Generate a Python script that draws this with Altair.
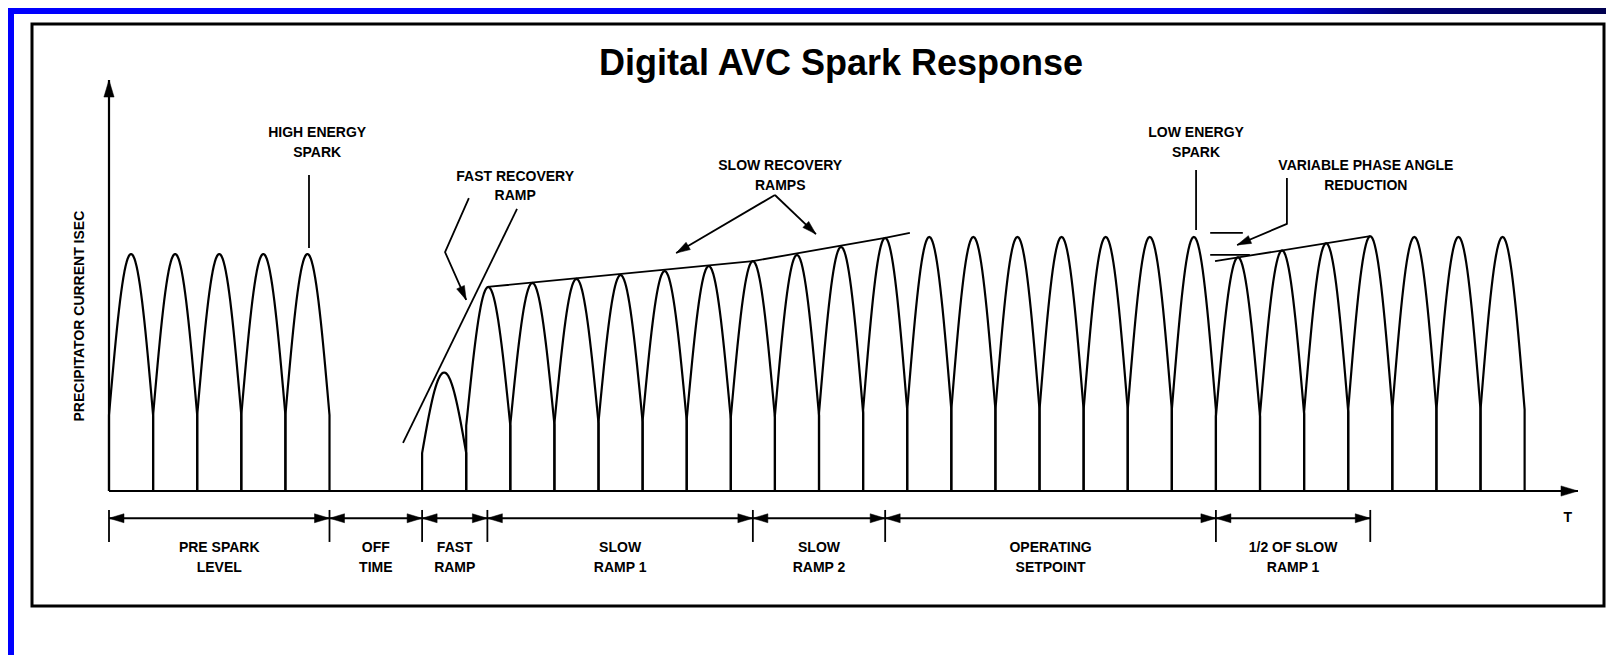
import math
import altair as alt
import pandas as pd

# ---------------- data (time in half-cycles, current in % of pre-spark peak) ----------------
pre_starts = [0, 1, 2, 3, 4]
pre_peaks = [100, 100, 100, 100, 100]
fast_starts = [7.1]
fast_peaks = [50]
main_starts = [8.1, 9.1, 10.1, 11.1, 12.1, 13.1, 14.1, 15.1, 16.1, 17.1, 18.1, 19.1,
               20.1, 21.1, 22.1, 23.1, 24.1, 25.1, 26.1, 27.1, 28.1, 29.1, 30.1, 31.1]
main_peaks = [86.1, 87.8, 89.5, 91.1, 92.8, 94.9, 97.0, 99.6, 103.0, 106.8,
              107.2, 107.2, 107.2, 107.2, 107.2, 107.2, 107.2,
              98.6, 101.5, 104.5, 107.5,
              107.2, 107.2, 107.2]

span_starts = [0, 5, 7.1, 8.58, 14.6, 17.6, 25.1]
span_ends = [5, 7.1, 8.58, 14.6, 17.6, 25.1, 28.6]
span_line1 = ["PRE SPARK", "OFF", "FAST", "SLOW", "SLOW", "OPERATING", "1/2 OF SLOW"]
span_line2 = ["LEVEL", "TIME", "RAMP", "RAMP 1", "RAMP 2", "SETPOINT", "RAMP 1"]

callout_t = [4.72, 9.21, 15.22, 24.65, 28.5]
callout_v1 = [151.1, 132.5, 137.1, 151.1, 137.1]
callout_v2 = [142.6, 124.5, 128.7, 142.6, 128.7]
callout_line1 = ["HIGH ENERGY", "FAST RECOVERY", "SLOW RECOVERY", "LOW ENERGY", "VARIABLE PHASE ANGLE"]
callout_line2 = ["SPARK", "RAMP", "RAMPS", "SPARK", "REDUCTION"]

# annotation polylines (t, v)
lines = {
    "fast_ramp": [(6.667, 20.3), (9.252, 119.0)],
    "slow_ramp": [(8.58, 86.1), (14.6, 97.0), (17.6, 106.8), (18.16, 108.9)],
    "hi_spark": [(4.535, 133.3), (4.535, 102.5)],
    "lo_spark": [(24.65, 135.4), (24.65, 110.1)],
    "fast_ptr": [(8.16, 123.6), (7.62, 100.8), (8.10, 80.6)],
    "slow_ptr_a": [(15.10, 124.9), (12.86, 100.4)],
    "slow_ptr_b": [(15.10, 124.9), (16.03, 108.4)],
    "vpa_ptr": [(26.71, 132.1), (26.71, 112.7), (25.58, 103.8)],
    "vpa_upper": [(24.97, 108.9), (25.71, 108.9)],
    "vpa_lower": [(24.97, 99.6), (25.87, 99.6)],
    "vpa_ramp": [(25.08, 97.0), (28.6, 107.5)],
}
pointer_tips = ["fast_ptr", "slow_ptr_a", "slow_ptr_b", "vpa_ptr"]

y_axis_top = 173.4
x_axis_end = 33.31
span_bar_v = -11.5
span_tick_v = (-8.0, -21.5)
span_text_v = (-24.1, -32.5)

# ---------------- scales / layout ----------------
XMIN, XMAX = -1.746, 33.9
VMIN, VMAX = -48.52, 197.05
W, H = 1572, 582
KX = W / (XMAX - XMIN)
KY = H / (VMAX - VMIN)
xs = alt.Scale(domain=[XMIN, XMAX], nice=False, zero=False)
ys = alt.Scale(domain=[VMIN, VMAX], nice=False, zero=False)
X = lambda f: alt.X(f, scale=xs, axis=None)
Y = lambda f: alt.Y(f, scale=ys, axis=None)

FONT = "Liberation Sans"
ARROW = "M0,0L-2,-0.6L-2,0.6Z"

# waveform humps: vertical rise at the firing point, half-sine arc, vertical drop
CUSP, N = 0.32, 40
rows = []
hid = 0
for starts, peaks in [(pre_starts, pre_peaks), (fast_starts, fast_peaks), (main_starts, main_peaks)]:
    for x0, pk in zip(starts, peaks):
        c = CUSP * pk
        seq = [(x0, 0.0)]
        for i in range(N + 1):
            u = -1 + 2 * i / N
            seq.append((x0 + (u + 1) / 2, c + (pk - c) * math.cos(math.pi / 2 * u)))
        seq.append((x0 + 1, 0.0))
        for j, (t, v) in enumerate(seq):
            rows.append({"hump": hid, "ord": j, "t": t, "v": v})
        hid += 1
wave_df = pd.DataFrame(rows)

ann_rows = []
for name, pts in lines.items():
    for j, (t, v) in enumerate(pts):
        ann_rows.append({"g": name, "ord": j, "t": t, "v": v})
ann_df = pd.DataFrame(ann_rows)


def ang(frm, to):
    dx = (to[0] - frm[0]) * KX
    dy = -(to[1] - frm[1]) * KY
    return math.degrees(math.atan2(dy, dx)) % 360


arrows = []
for name in pointer_tips:
    pts = lines[name]
    arrows.append({"t": pts[-1][0], "v": pts[-1][1], "ang": ang(pts[-2], pts[-1]), "sz": 196})
arrows.append({"t": 0, "v": y_axis_top, "ang": 270, "sz": 289})
arrows.append({"t": x_axis_end, "v": 0, "ang": 0, "sz": 289})
for a, b in zip(span_starts, span_ends):
    arrows.append({"t": a, "v": span_bar_v, "ang": 180, "sz": 225})
    arrows.append({"t": b, "v": span_bar_v, "ang": 0, "sz": 225})
arrow_df = pd.DataFrame(arrows)

ticks = sorted(set(span_starts + span_ends))
tick_df = pd.DataFrame({"t": ticks, "v1": span_tick_v[0], "v2": span_tick_v[1]})

span_txt = []
for a, b, l1, l2 in zip(span_starts, span_ends, span_line1, span_line2):
    span_txt.append({"t": (a + b) / 2, "v": span_text_v[0], "txt": l1})
    span_txt.append({"t": (a + b) / 2, "v": span_text_v[1], "txt": l2})
for t, v1, v2, l1, l2 in zip(callout_t, callout_v1, callout_v2, callout_line1, callout_line2):
    span_txt.append({"t": t, "v": v1, "txt": l1})
    span_txt.append({"t": t, "v": v2, "txt": l2})
span_txt.append({"t": 33.08, "v": -11.4, "txt": "T"})
text_df = pd.DataFrame(span_txt)

axis_df = pd.DataFrame({"t": [0, 0], "v": [0, 0], "t2": [0, x_axis_end], "v2": [y_axis_top, 0]})
bar_df = pd.DataFrame({"t": [span_starts[0]], "t2": [span_ends[-1]], "v": [span_bar_v]})
one = pd.DataFrame({"a": [0]})

# ---------------- layers ----------------
band_top = alt.Chart(one).mark_rect(
    fill=alt.Gradient(gradient="linear", x1=0, x2=1, y1=0, y2=0,
                      stops=[alt.GradientStop(color="#0000fe", offset=0),
                             alt.GradientStop(color="#0000f0", offset=0.80),
                             alt.GradientStop(color="#00007a", offset=0.87),
                             alt.GradientStop(color="#000050", offset=1)])
).encode(x=alt.value(-24), x2=alt.value(1574), y=alt.value(-16), y2=alt.value(-10))
band_left = alt.Chart(one).mark_rect(color="#0000fe").encode(
    x=alt.value(-24), x2=alt.value(-18), y=alt.value(-16), y2=alt.value(631))

wave = alt.Chart(wave_df).mark_line(color="black", strokeWidth=2.2, strokeJoin="round").encode(
    x=X("t:Q"), y=Y("v:Q"), detail="hump:N", order="ord:Q")

ann = alt.Chart(ann_df).mark_line(color="black", strokeWidth=1.8, strokeJoin="round").encode(
    x=X("t:Q"), y=Y("v:Q"), detail="g:N", order="ord:Q")

axes = alt.Chart(axis_df).mark_rule(color="black", strokeWidth=2.2).encode(
    x=X("t:Q"), y=Y("v:Q"), x2="t2:Q", y2="v2:Q")

bar = alt.Chart(bar_df).mark_rule(color="black", strokeWidth=2).encode(
    x=X("t:Q"), x2="t2:Q", y=Y("v:Q"))

tick_marks = alt.Chart(tick_df).mark_rule(color="black", strokeWidth=1.8).encode(
    x=X("t:Q"), y=Y("v1:Q"), y2="v2:Q")

heads = alt.Chart(arrow_df).mark_point(shape=ARROW, filled=True, fill="black", stroke="black",
                                       strokeWidth=0.5, opacity=1).encode(
    x=X("t:Q"), y=Y("v:Q"),
    angle=alt.Angle("ang:Q", scale=None), size=alt.Size("sz:Q", scale=None))

labels = alt.Chart(text_df).mark_text(font=FONT, fontWeight="bold", fontSize=14, align="center",
                                      baseline="middle", color="black").encode(
    x=X("t:Q"), y=Y("v:Q"), text="txt:N")

title_df = pd.DataFrame({"t": [16.6], "v": [180.2], "txt": ["Digital AVC Spark Response"]})
title = alt.Chart(title_df).mark_text(font=FONT, fontWeight="bold", fontSize=36, align="center",
                                      baseline="middle", color="black").encode(
    x=X("t:Q"), y=Y("v:Q"), text="txt:N")

ylab_df = pd.DataFrame({"t": [-0.658], "v": [73.8], "txt": ["PRECIPITATOR CURRENT ISEC"]})
ylab = alt.Chart(ylab_df).mark_text(font=FONT, fontWeight="bold", fontSize=14, align="center",
                                    baseline="middle", angle=270, color="black").encode(
    x=X("t:Q"), y=Y("v:Q"), text="txt:N")

chart = alt.layer(band_top, band_left, wave, ann, axes, bar, tick_marks, heads, labels, title, ylab).properties(
    width=W, height=H,
    padding={"left": 24, "top": 16, "right": 2, "bottom": 49},
    autosize=alt.AutoSizeParams(type="none"),
    background="white",
).configure_view(stroke="black", strokeWidth=3)

chart.save("out.html", embed_options={"renderer": "svg", "actions": False})
